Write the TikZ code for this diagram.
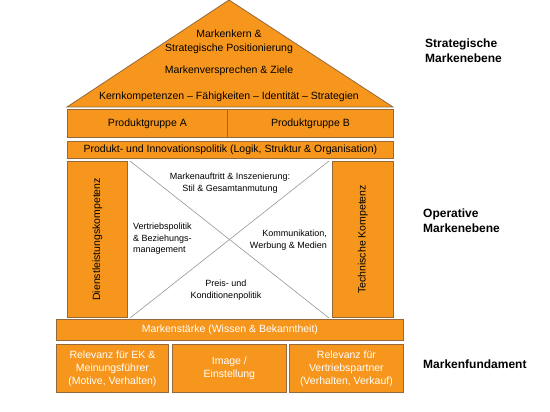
\documentclass[tikz,border=0pt]{standalone}
\usepackage{fontspec}
\setmainfont{Liberation Sans}
\definecolor{hausorange}{RGB}{247,150,28}
\definecolor{hausrand}{RGB}{150,105,60}
\definecolor{kreuz}{RGB}{150,150,150}
\begin{document}
\begin{tikzpicture}[x=1pt,y=-1pt,
  base/.style={font=\fontsize{10.5}{13}\selectfont},
  box/.style={base,draw=hausrand,fill=hausorange,line width=0.8pt,inner sep=0pt,anchor=north west,align=center},
  wbox/.style={box,text=white},
  txt/.style={base,inner sep=0pt,align=center},
  mtxt/.style={font=\fontsize{9}{11.5}\selectfont,inner sep=0pt,align=center},
  ebene/.style={font=\fontsize{12}{15}\selectfont\bfseries,inner sep=0pt,align=left,anchor=west},
  kreuzlinie/.style={draw=kreuz,line width=0.6pt}]
\useasboundingbox (0,0) rectangle (550,412);
% roof
\coordinate (dl) at (67,107);
\coordinate (dt) at (229,0);
\coordinate (dr) at (393,107);
\draw[draw=hausrand,fill=hausorange,line width=0.8pt] (dl) -- (dt) -- (dr) -- cycle;
\node[txt] (kern) at (229,42) {Markenkern \&\\[1pt]Strategische Positionierung};
\node[txt] (versp) at (229,71) {Markenversprechen \& Ziele};
\node[txt] (kompt) at (229,97) {Kernkompetenzen -- Fähigkeiten -- Identität -- Strategien};
% product rows
\node[box,minimum width=160,minimum height=28] (pga) at (67,109) {Produktgruppe A};
\node[box,minimum width=166,minimum height=28] (pgb) at (227,109) {Produktgruppe B};
\node[box,minimum width=326,minimum height=17] (pip) at (67,141) {Produkt- und Innovationspolitik (Logik, Struktur \& Organisation)};
% columns
\node[box,minimum width=60,minimum height=156] (dlk) at (67,161) {};
\node[base,rotate=90] at (dlk.center) {Dienstleistungskompetenz};
\node[box,minimum width=61,minimum height=156] (tk) at (332,161) {};
\node[base,rotate=90] at (tk.center) {Technische Kompetenz};
% cross
\coordinate (ktl) at (130,161);
\coordinate (ktr) at (329,161);
\coordinate (kbl) at (130,318);
\coordinate (kbr) at (329,318);
\draw[kreuzlinie] (ktl) -- (kbr);
\draw[kreuzlinie] (ktr) -- (kbl);
\node[mtxt] (auftritt) at (230,183) {Markenauftritt \& Inszenierung:\\Stil \& Gesamtanmutung};
\node[mtxt,align=left,anchor=west] (vertrieb) at (133,239) {Vertriebspolitik\\\& Beziehungs-\\management};
\node[mtxt,align=right,anchor=east] (komm) at (327,240) {Kommunikation,\\Werbung \& Medien};
\node[mtxt] (preis) at (226,290) {Preis- und\\Konditionenpolitik};
% foundation
\node[wbox,minimum width=347,minimum height=21] (staerke) at (56,319) {Markenstärke (Wissen \& Bekanntheit)};
\node[wbox,minimum width=112,minimum height=48] (rek) at (56,344) {Relevanz für EK \&\\Meinungsführer\\(Motive, Verhalten)};
\node[wbox,minimum width=114,minimum height=48] (img) at (172,344) {Image /\\Einstellung};
\node[wbox,minimum width=114,minimum height=48] (rvp) at (289,344) {Relevanz für\\Vertriebspartner\\(Verhalten, Verkauf)};
% level labels
\node[ebene] (strat) at (425,51) {Strategische\\Markenebene};
\node[ebene] (oper) at (423,221) {Operative\\Markenebene};
\node[ebene] (fund) at (423,364) {Markenfundament};
\end{tikzpicture}
\end{document}
